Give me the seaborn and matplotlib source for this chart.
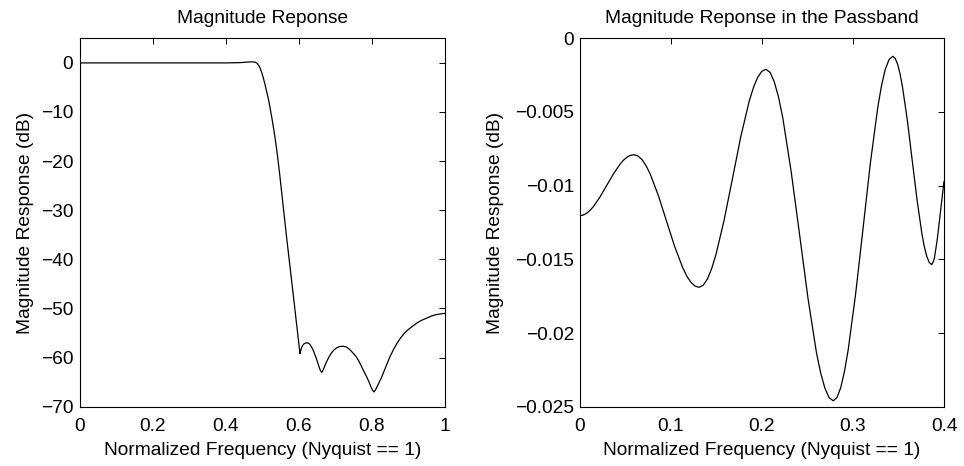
import matplotlib
matplotlib.use("Agg")
import matplotlib.pyplot as plt
import seaborn as sns
import pandas as pd
from matplotlib.ticker import FuncFormatter

# ---- data ----
full_freq = [0.0, 0.1, 0.2, 0.3, 0.4, 0.44, 0.458, 0.47, 0.480, 0.486, 0.490,
             0.494, 0.498, 0.502, 0.507, 0.512, 0.517, 0.522, 0.527, 0.532,
             0.537, 0.542, 0.548, 0.566, 0.585,
             0.6032, 0.6050, 0.6075, 0.610, 0.6135, 0.618, 0.6235, 0.628, 0.632,
             0.636, 0.640, 0.644, 0.648, 0.652, 0.656, 0.659, 0.6627,
             0.6655, 0.669, 0.674, 0.679, 0.684, 0.690, 0.697, 0.704, 0.712,
             0.7225, 0.730, 0.737, 0.744, 0.750, 0.757, 0.763, 0.770, 0.777,
             0.786, 0.792, 0.798, 0.802, 0.806, 0.810, 0.814, 0.820, 0.827,
             0.833, 0.840, 0.850, 0.860, 0.870, 0.880, 0.890, 0.900, 0.914,
             0.925, 0.937, 0.951, 0.965, 0.980, 1.0]
full_db = [-0.01, -0.01, -0.01, -0.01, -0.01, 0.05, 0.15, 0.2, 0.15, -0.1, -0.5,
           -1.1, -1.9, -2.9, -4.3, -5.9, -7.5, -9.5, -11.6, -13.9,
           -16.4, -19.2, -23.0, -35.2, -47.4,
           -59.2, -58.6, -58.0, -57.6, -57.25, -57.05, -57.0, -57.15, -57.5,
           -58.0, -58.6, -59.4, -60.2, -61.1, -62.0, -62.6, -63.0,
           -62.7, -62.1, -61.2, -60.4, -59.7, -59.0, -58.4, -58.0, -57.75,
           -57.7, -57.85, -58.2, -58.7, -59.2, -59.8, -60.5, -61.5, -62.6,
           -63.9, -64.9, -66.0, -66.6, -67.0, -66.6, -66.0, -65.1, -64.0,
           -62.9, -61.6, -59.8, -58.3, -57.0, -55.9, -55.0, -54.3, -53.5,
           -52.9, -52.4, -51.95, -51.5, -51.2, -51.0]

pass_freq = [0.0, 0.003725, 0.00745, 0.011175, 0.0149, 0.02235, 0.0298, 0.03725,
             0.0447, 0.048425, 0.05215, 0.055875, 0.0596,
             0.06406, 0.0685, 0.07299, 0.0775, 0.0864, 0.0953, 0.1042, 0.1132,
             0.11761, 0.1221, 0.12654, 0.131,
             0.13559, 0.1402, 0.14478, 0.1494, 0.1586, 0.1678, 0.1769, 0.1861,
             0.19072, 0.1953, 0.19991, 0.2045,
             0.20912, 0.2137, 0.21836, 0.2230, 0.2322, 0.2415, 0.2507, 0.2599,
             0.26454, 0.2692, 0.27378, 0.2784,
             0.28248, 0.2866, 0.29064, 0.2947, 0.3029, 0.3111, 0.3192, 0.3274,
             0.33146, 0.3355, 0.33962, 0.3437,
             0.34638, 0.3491, 0.35173, 0.3544, 0.3598, 0.3651, 0.3705, 0.3758,
             0.37848, 0.3812, 0.38383, 0.3865,
             0.3880, 0.3895, 0.3925, 0.3955, 0.4]
pass_db = [-0.01204, -0.0120, -0.01188, -0.01169, -0.01143, -0.01076, -0.00997, -0.00918,
           -0.00851, -0.00825, -0.00806, -0.00794, -0.0079,
           -0.00799, -0.00824, -0.00866, -0.00922, -0.01068, -0.0124, -0.01412, -0.01558,
           -0.01614, -0.01656, -0.01681, -0.0169,
           -0.01676, -0.01634, -0.01565, -0.01473, -0.01233, -0.0095, -0.00667, -0.00427,
           -0.00335, -0.00266, -0.00224, -0.0021,
           -0.00232, -0.00296, -0.0040, -0.0054, -0.00905, -0.01335, -0.01766, -0.02131,
           -0.0227, -0.02374, -0.02438, -0.0246,
           -0.02438, -0.02371, -0.02263, -0.02118, -0.01738, -0.01291, -0.00844, -0.00464,
           -0.00319, -0.00211, -0.00145, -0.00122,
           -0.00136, -0.00176, -0.00241, -0.00329, -0.00558, -0.00829, -0.011, -0.01329,
           -0.01417, -0.01482, -0.01522, -0.01536,
           -0.0152, -0.0149, -0.0137, -0.0121, -0.0097]

left_xticks = [0, 0.2, 0.4, 0.6, 0.8, 1]
left_yticks = [-70, -60, -50, -40, -30, -20, -10, 0]
right_xticks = [0, 0.1, 0.2, 0.3, 0.4]
right_yticks = [-0.025, -0.02, -0.015, -0.01, -0.005, 0]

titles = ["Magnitude Reponse", "Magnitude Reponse in the Passband"]
xlabel = "Normalized Frequency (Nyquist == 1)"
ylabel = "Magnitude Response (dB)"

# ---- style ----
sns.set_style("white")
plt.rcParams['font.family'] = ['Liberation Sans', 'DejaVu Sans']
plt.rcParams['axes.unicode_minus'] = True
plt.rcParams['text.color'] = 'black'
plt.rcParams['axes.labelcolor'] = 'black'

FS = 13.8

fig = plt.figure(figsize=(9.64, 4.66), dpi=100)
ax1 = fig.add_axes([80 / 964, 59.3 / 466, 364.7 / 964, 368.4 / 466])
ax2 = fig.add_axes([579.7 / 964, 59.3 / 466, 364.3 / 964, 368.4 / 466])

df1 = pd.DataFrame({"f": full_freq, "db": full_db})
df2 = pd.DataFrame({"f": pass_freq, "db": pass_db})

sns.lineplot(data=df1, x="f", y="db", ax=ax1, color="black", linewidth=0.9,
             estimator=None, sort=False)
sns.lineplot(data=df2, x="f", y="db", ax=ax2, color="black", linewidth=0.9,
             estimator=None, sort=False)

fmt = FuncFormatter(lambda v, p: (f"{v:g}").replace("-", "\u2212"))

for ax, xt, yt, xl, yl, title, ypad, ylp in [
        (ax1, left_xticks, left_yticks, (0, 1), (-70, 5), titles[0], 5, 5),
        (ax2, right_xticks, right_yticks, (0, 0.4), (-0.025, 0), titles[1], 4, 8)]:
    ax.set_xlim(*xl)
    ax.set_ylim(*yl)
    ax.set_xticks(xt)
    ax.set_yticks(yt)
    ax.xaxis.set_major_formatter(fmt)
    ax.yaxis.set_major_formatter(fmt)
    ax.tick_params(axis="both", which="both", direction="in", length=4,
                   width=0.7, top=True, right=True, labelsize=FS,
                   color="black", labelcolor="black")
    ax.tick_params(axis="x", pad=8)
    ax.tick_params(axis="y", pad=ypad)
    for s in ax.spines.values():
        s.set_color("black")
        s.set_linewidth(0.8)
        s.set_visible(True)
    ax.set_xlabel(xlabel, fontsize=FS, labelpad=5, color="black")
    ax.set_ylabel(ylabel, fontsize=FS, labelpad=ylp, color="black")
    ax.set_title(title, fontsize=FS, pad=11, color="black")
    ax.grid(False)

fig.savefig("out.png", dpi=100, facecolor="white")
